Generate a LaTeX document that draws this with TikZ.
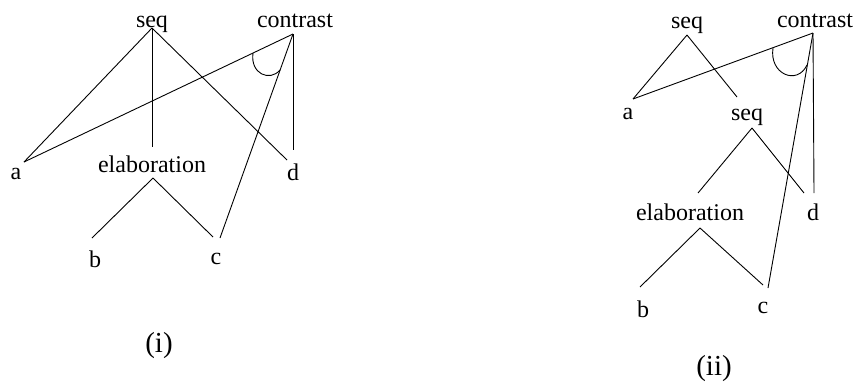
\documentclass[tikz,border=0pt]{standalone}
\usepackage{fontspec}
\setmainfont{Liberation Serif}
\begin{document}
\begin{tikzpicture}[x=1pt,y=-1pt,
  lbl/.style={anchor=base,inner sep=0pt,font=\fontsize{24}{28}\selectfont},
  captionlbl/.style={anchor=base,inner sep=0pt,font=\fontsize{29}{34}\selectfont},
  edge/.style={line width=0.9pt}]
\useasboundingbox (0,0) rectangle (858,381);
% ---------- (i) ----------
\node[lbl] (seqL) at (152,27) {seq};
\node[lbl] (conL) at (295,27) {contrast};
\node[lbl] (aL) at (16,179) {a};
\node[lbl] (elL) at (152,172) {elaboration};
\node[lbl] (dL) at (293,180) {d};
\node[lbl] (bL) at (95,267) {b};
\node[lbl] (cL) at (216,264) {c};
\node[captionlbl] (iL) at (159,352) {(i)};
\coordinate (seqLp) at (152,28);
\coordinate (conLp) at (293,34);
\coordinate (aLp) at (24,162);
\coordinate (elLtop) at (152,147);
\coordinate (dLp) at (287,160);
\coordinate (dLv) at (293,150);
\coordinate (elLp) at (153,178);
\coordinate (bLp) at (92,238);
\coordinate (cLp) at (213,237);
\coordinate (cLc) at (220,238);
\coordinate (arcLs) at (253,53);
\coordinate (arcLe) at (280,70);
\draw[edge] (seqLp) -- (aLp);
\draw[edge] (seqLp) -- (elLtop);
\draw[edge] (seqLp) -- (dLp);
\draw[edge] (conLp) -- (aLp);
\draw[edge] (conLp) -- (dLv);
\draw[edge] (conLp) -- (cLc);
\draw[edge] (elLp) -- (bLp);
\draw[edge] (elLp) -- (cLp);
\draw[edge] (arcLs) .. controls (250,74) and (270,82) .. (arcLe);
% ---------- (ii) ----------
\node[lbl] (seqR) at (687,28) {seq};
\node[lbl] (conR) at (815,27) {contrast};
\node[lbl] (aR) at (628,119) {a};
\node[lbl] (seqR2) at (747,120) {seq};
\node[lbl] (elR) at (690,220) {elaboration};
\node[lbl] (dR) at (813,220) {d};
\node[lbl] (bR) at (643,317) {b};
\node[lbl] (cR) at (763,313) {c};
\node[captionlbl] (iiR) at (714,375) {(ii)};
\coordinate (seqRp) at (687,35);
\coordinate (conRp) at (813,33);
\coordinate (aRp) at (633,99);
\coordinate (seqR2top) at (737,97);
\coordinate (seqR2p) at (752,128);
\coordinate (elRtop) at (698,193);
\coordinate (dRp) at (804,193);
\coordinate (dRv) at (814,193);
\coordinate (elRp) at (700,228);
\coordinate (bRp) at (640,287);
\coordinate (cRp) at (763,285);
\coordinate (cRc) at (768,288);
\coordinate (arcRs) at (773,48);
\coordinate (arcRe) at (807,65);
\draw[edge] (seqRp) -- (aRp);
\draw[edge] (seqRp) -- (seqR2top);
\draw[edge] (conRp) -- (aRp);
\draw[edge] (conRp) -- (dRv);
\draw[edge] (conRp) -- (cRc);
\draw[edge] (seqR2p) -- (elRtop);
\draw[edge] (seqR2p) -- (dRp);
\draw[edge] (elRp) -- (bRp);
\draw[edge] (elRp) -- (cRp);
\draw[edge] (arcRs) .. controls (769,74) and (797,86) .. (arcRe);
\end{tikzpicture}
\end{document}
